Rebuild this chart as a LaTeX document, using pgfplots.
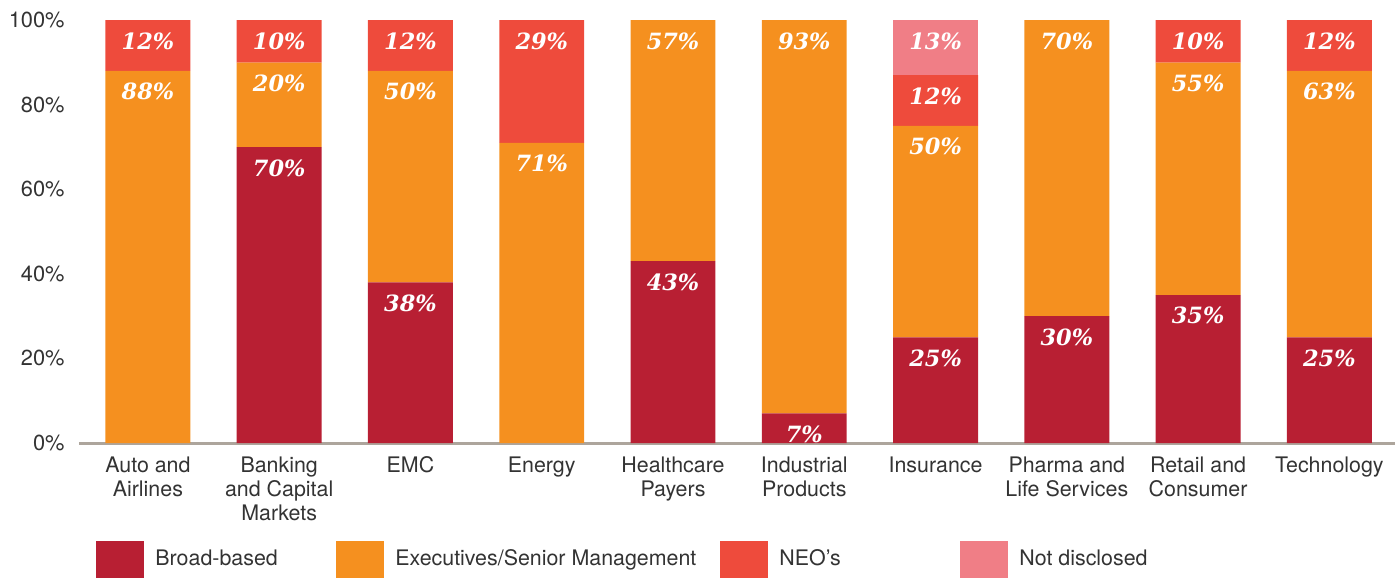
\documentclass[border=0pt]{standalone}
\usepackage{fontspec}
\setmainfont{TeX Gyre Heros}
\newfontfamily\numfont{DejaVu Serif}
\usepackage{pgfplots}
\usepackage{pgfplotstable}
\pgfplotsset{compat=1.18}
\definecolor{broad}{HTML}{B81F33}
\definecolor{exec}{HTML}{F5901F}
\definecolor{neo}{HTML}{EE4B3C}
\definecolor{notd}{HTML}{F07E86}
\definecolor{txt}{HTML}{333333}
\definecolor{axl}{HTML}{ADA59C}

% share of each group, per sector (percent)
\pgfplotstableread{
x B  E  N  D
0 0  88 12 0
1 70 20 10 0
2 38 50 12 0
3 0  71 29 0
4 43 57 0  0
5 7  93 0  0
6 25 50 12 13
7 30 70 0  0
8 35 55 10 0
9 25 63 12 0
}\data

\begin{document}
\begin{tikzpicture}
\path[use as bounding box] (-39.5bp,-68bp) rectangle (658bp,221.5bp);
\begin{axis}[
  at={(0,0)}, anchor=south west,
  scale only axis, width=658bp, height=213.5bp,
  ybar stacked, bar width=0.647,
  xmin=-0.525, xmax=9.5, ymin=0, ymax=101,
  axis x line*=bottom, axis y line*=left,
  x axis line style={axl, line width=1.5bp, -},
  y axis line style={draw=none},
  major tick length=0pt,
  xtick={0,...,9},
  xticklabels={{Auto and\\Airlines},{Banking\\and Capital\\Markets},EMC,Energy,
    {Healthcare\\Payers},{Industrial\\Products},Insurance,{Pharma and\\Life Services},
    {Retail and\\Consumer},Technology},
  xticklabel style={font=\fontsize{10.7bp}{12bp}\selectfont, text=txt, align=center,
    inner sep=0pt, yshift=-6.5bp},
  ytick={0,20,40,60,80,100},
  yticklabels={0\%,20\%,40\%,60\%,80\%,100\%},
  yticklabel style={font=\fontsize{10.9bp}{12bp}\selectfont, text=txt, inner sep=0pt,
    xshift=-7bp},
  clip=false,
  point meta=explicit symbolic,
  visualization depends on=rawy\as\rawy,
  nodes near coords={\ifnum\pgfplotspointmeta>0\relax\pgfplotspointmeta\%\fi},
  every node near coord/.append style={anchor=center, yshift={\rawy*1.05693bp-10.4bp},
    text=white, font=\numfont\bfseries\itshape\fontsize{11.2bp}{12bp}\selectfont},
  legend image code/.code={\fill[#1] (0bp,-9.25bp) rectangle (24bp,9.25bp);},
  legend columns=4,
  legend style={draw=none, fill=none, inner sep=0pt, at={(0.01292,-0.2728)}, anchor=west,
    nodes={inner sep=0pt, text=txt, font=\fontsize{10.7bp}{12bp}\selectfont},
    /tikz/every odd column/.style={column sep=5.5bp}},
  legend cell align=left,
]
\addplot[fill=broad, draw=none] table[x=x, y=B, meta=B] \data;
\addplot[fill=exec, draw=none] table[x=x, y=E, meta=E] \data;
\addplot[fill=neo, draw=none] table[x=x, y=N, meta=N] \data;
\addplot[fill=notd, draw=none] table[x=x, y=D, meta=D] \data;
\legend{\makebox[90.5bp][l]{Broad-based},\makebox[162.5bp][l]{Executives/Senior Management},
  \makebox[90.5bp][l]{NEO’s},Not disclosed}
\end{axis}
\end{tikzpicture}
\end{document}
